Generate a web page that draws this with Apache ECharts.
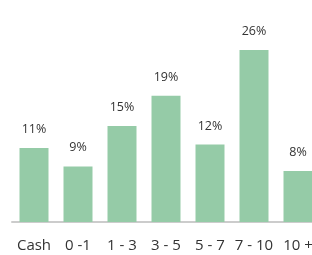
<!DOCTYPE html>
<html>
<head>
<meta charset="utf-8">
<script src="https://cdn.jsdelivr.net/npm/echarts@6/dist/echarts.min.js"></script>
<style>
  html, body { margin: 0; padding: 0; background: #fff; overflow: hidden; }
  /* chart runs a little past the right edge, like the original */
  #chart { width: 320px; height: 255px; }
</style>
</head>
<body>
<div id="chart"></div>
<script>
// categories and values
var categories = ['Cash', '0 -1', '1 - 3', '3 - 5', '5 - 7', '7 - 10', '10 +'];
var values = [11.2, 8.4, 14.5, 19.1, 11.7, 26, 7.7];
var labels = ['11%', '9%', '15%', '19%', '12%', '26%', '8%'];

var myChart = echarts.init(document.getElementById('chart'));

myChart.setOption({
    animation: false,
    grid: { left: 12, top: 50, right: 0, bottom: 33, containLabel: false },
    xAxis: {
        type: 'category',
        data: categories,
        axisTick: { show: false },
        axisLine: { lineStyle: { color: '#cccccc', width: 2 } },
        axisLabel: {
            color: '#333333',
            fontFamily: 'Open Sans',
            fontSize: 15,
            margin: 16,
            interval: 0
        }
    },
    yAxis: {
        type: 'value',
        min: 0,
        max: 26,
        show: false
    },
    series: [{
        type: 'bar',
        data: values,
        barWidth: 29,
        itemStyle: { color: '#95cba7' },
        label: {
            show: true,
            position: 'top',
            distance: 12,
            color: '#333333',
            fontFamily: 'Open Sans',
            fontSize: 12.5,
            formatter: function (p) { return labels[p.dataIndex]; }
        }
    }]
});
</script>
</body>
</html>
